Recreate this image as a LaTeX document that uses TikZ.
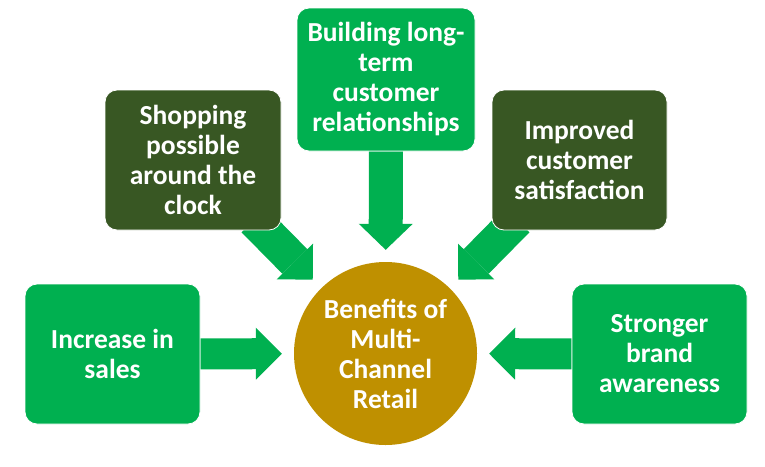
\documentclass[tikz,border=0pt]{standalone}
\usepackage{fontspec}
\setmainfont{Carlito}
\usetikzlibrary{arrows.meta,backgrounds}
\definecolor{grn}{HTML}{00B050}
\definecolor{dgrn}{HTML}{385723}
\definecolor{gold}{HTML}{BF9000}
\begin{document}
\begin{tikzpicture}[x=1pt,y=-1pt,
  lbl/.style={text=white, font=\fontsize{27.5}{30}\selectfont\bfseries, align=center, inner sep=0pt},
  box/.style={lbl, rectangle, rounded corners=12pt, draw=white, line width=0.8pt, minimum width=175pt, minimum height=140pt},
  lightbox/.style={box, fill=grn},
  darkbox/.style={box, fill=dgrn},
  hub/.style={lbl, circle, fill=gold, minimum size=183pt},
  barrow/.style={draw=grn, shorten >=12pt},
  harrow/.style={barrow, line width=31pt, -{Triangle[width=52pt,length=26pt,line width=0pt]}},
  varrow/.style={barrow, line width=34pt, -{Triangle[width=54pt,length=26pt,line width=0pt]}},
  darrow/.style={barrow, line width=35pt, -{Triangle[width=51pt,length=25.5pt,line width=0pt]}}
]
\useasboundingbox (0,0) rectangle (765,466);

\node[lightbox, minimum width=178pt, minimum height=143pt] (top) at (386,79.5) {Building long-\\term\\customer\\relationships};
\node[darkbox, minimum width=176pt] (shop) at (193,160) {Shopping\\possible\\around the\\clock};
\node[darkbox] (impr) at (579.5,160) {Improved\\customer\\satisfaction};
\node[lightbox] (incr) at (112.5,354) {Increase in\\sales};
\node[lightbox] (strg) at (659.5,354) {Stronger\\brand\\awareness};
\node[hub] (ctr) at (385.5,353.5) {Benefits of\\Multi-\\Channel\\Retail};

\coordinate (shopt) at (254,220);
\coordinate (imprt) at (517,220);

\begin{scope}[on background layer]
  \fill[white] (0,0) rectangle (765,466);
  \draw[varrow] (top) -- (ctr);
  \draw[darrow] (shopt) -- (ctr);
  \draw[darrow] (imprt) -- (ctr);
  \draw[harrow] (incr) -- (ctr);
  \draw[harrow] (strg) -- (ctr);
\end{scope}
\end{tikzpicture}
\end{document}
